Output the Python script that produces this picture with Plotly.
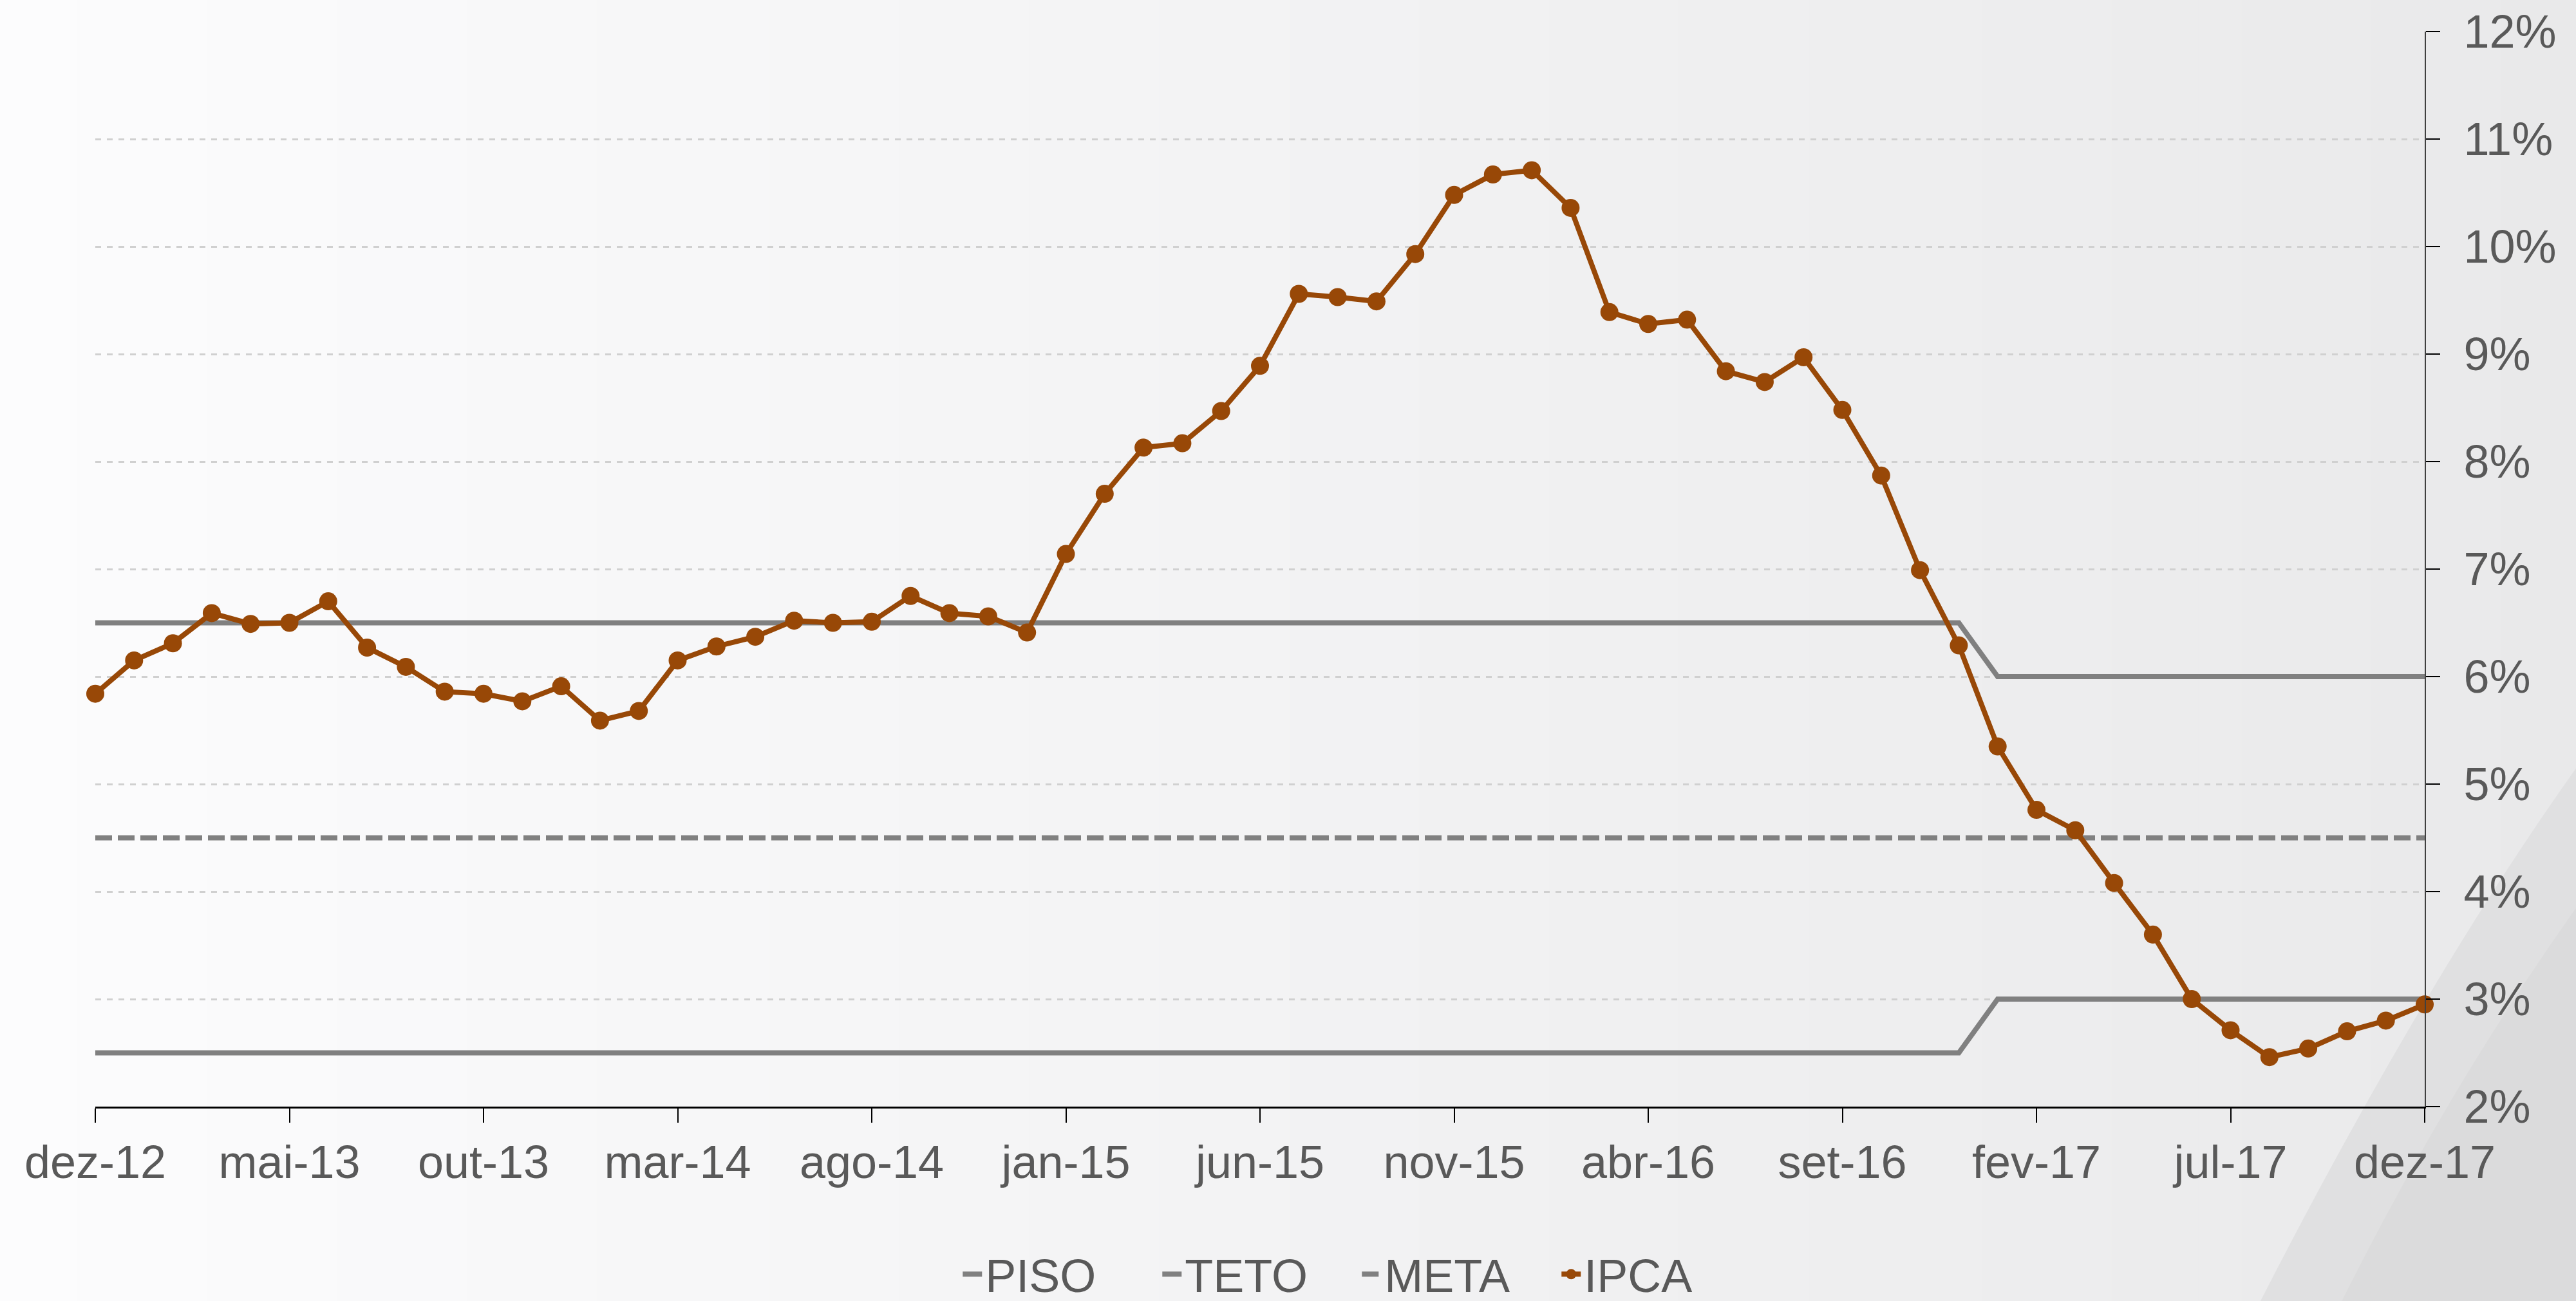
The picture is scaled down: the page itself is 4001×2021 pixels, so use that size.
import plotly.graph_objects as go

months = [
    "dez-12", "jan-13", "fev-13", "mar-13", "abr-13", "mai-13", "jun-13", "jul-13", "ago-13", "set-13", "out-13", "nov-13",
    "dez-13", "jan-14", "fev-14", "mar-14", "abr-14", "mai-14", "jun-14", "jul-14", "ago-14", "set-14", "out-14", "nov-14",
    "dez-14", "jan-15", "fev-15", "mar-15", "abr-15", "mai-15", "jun-15", "jul-15", "ago-15", "set-15", "out-15", "nov-15",
    "dez-15", "jan-16", "fev-16", "mar-16", "abr-16", "mai-16", "jun-16", "jul-16", "ago-16", "set-16", "out-16", "nov-16",
    "dez-16", "jan-17", "fev-17", "mar-17", "abr-17", "mai-17", "jun-17", "jul-17", "ago-17", "set-17", "out-17", "nov-17",
    "dez-17",
]

ipca = [
    5.84, 6.15, 6.31, 6.59, 6.49, 6.50, 6.70, 6.27, 6.09, 5.86, 5.84, 5.77,
    5.91, 5.59, 5.68, 6.15, 6.28, 6.37, 6.52, 6.50, 6.51, 6.75, 6.59, 6.56,
    6.41, 7.14, 7.70, 8.13, 8.17, 8.47, 8.89, 9.56, 9.53, 9.49, 9.93, 10.48,
    10.67, 10.71, 10.36, 9.39, 9.28, 9.32, 8.84, 8.74, 8.97, 8.48, 7.87, 6.99,
    6.29, 5.35, 4.76, 4.57, 4.08, 3.60, 3.00, 2.71, 2.46, 2.54, 2.70, 2.80,
    2.95,
]

piso = [2.5] * 49 + [3.0] * 12
teto = [6.5] * 49 + [6.0] * 12
meta = [4.5] * 61

tick_labels = ["dez-12", "mai-13", "out-13", "mar-14", "ago-14", "jan-15", "jun-15",
               "nov-15", "abr-16", "set-16", "fev-17", "jul-17", "dez-17"]
y_ticks = [2, 3, 4, 5, 6, 7, 8, 9, 10, 11, 12]

GRAY = "#808080"
IPCA_C = "#984807"
TXT = "#595959"
FONT = "Liberation Sans, Arial, sans-serif"

fig = go.Figure()
fig.add_trace(go.Scatter(x=months, y=piso, name="PISO", mode="lines",
                         line=dict(color=GRAY, width=8), cliponaxis=False))
fig.add_trace(go.Scatter(x=months, y=teto, name="TETO", mode="lines",
                         line=dict(color=GRAY, width=8), cliponaxis=False))
fig.add_trace(go.Scatter(x=months, y=meta, name="META", mode="lines",
                         line=dict(color=GRAY, width=8, dash="26px,9px"), cliponaxis=False))
fig.add_trace(go.Scatter(x=months, y=ipca, name="IPCA", mode="lines+markers",
                         line=dict(color=IPCA_C, width=8),
                         marker=dict(color=IPCA_C, size=28), cliponaxis=False))

# background gradient (style only)
shapes = []
n = 60
x_lo, x_hi = -0.045, 1.07
for i in range(n):
    t = i / (n - 1)
    c = int(round(252 - 19 * t))
    x0 = x_lo + (x_hi - x_lo) * i / n
    x1 = x_lo + (x_hi - x_lo) * (i + 1) / n + 0.001
    shapes.append(dict(type="rect", xref="paper", yref="paper", x0=x0, x1=x1,
                       y0=-0.2, y1=1.03, fillcolor=f"rgb({c},{c},{c+1})",
                       line=dict(width=0), layer="below"))
# bottom-right diagonal wedge
shapes.append(dict(type="path", xref="paper", yref="paper",
                   path="M 1.07,0.33 Q 1.0,0.12 0.925,-0.2 L 1.07,-0.2 Z",
                   fillcolor="rgb(224,224,225)", line=dict(width=0), layer="below"))
shapes.append(dict(type="path", xref="paper", yref="paper",
                   path="M 1.07,0.2 Q 1.01,0.02 0.96,-0.2 L 1.07,-0.2 Z",
                   fillcolor="rgb(219,219,220)", line=dict(width=0), layer="below"))

fig.update_layout(
    width=4001, height=2021,
    margin=dict(l=148, r=235, t=49, b=302, autoexpand=False),
    paper_bgcolor="#f4f4f4",
    plot_bgcolor="rgba(0,0,0,0)",
    font=dict(family=FONT, size=72, color=TXT),
    shapes=shapes,
    showlegend=True,
    legend=dict(orientation="h", x=0.371, xanchor="left", y=-0.156, yanchor="middle",
                font=dict(size=72, color=TXT), bgcolor="rgba(0,0,0,0)",
                itemwidth=30, entrywidth=265, entrywidthmode="pixels"),
    xaxis=dict(type="category", categoryorder="array", categoryarray=months,
               range=[0, 60], tickmode="array", tickvals=tick_labels, ticktext=tick_labels,
               showgrid=False, showline=True, linecolor="#000000", linewidth=3,
               ticks="outside", ticklen=22, tickwidth=2, tickcolor="#000000",
               tickfont=dict(size=72, color=TXT), zeroline=False, ticklabelstandoff=0,
               automargin=False),
    yaxis=dict(side="right", range=[2, 12], tickmode="array", tickvals=y_ticks,
               ticktext=[f"{v}%" for v in y_ticks],
               showgrid=True, gridcolor="#d0d0d0", gridwidth=3, griddash="9px,9px",
               showline=True, linecolor="#404040", linewidth=2,
               ticks="outside", ticklen=22, tickwidth=2, tickcolor="#000000",
               tickfont=dict(size=72, color=TXT), zeroline=False, ticklabelstandoff=22,
               automargin=False),
)

fig.write_html("out.html", config={"displayModeBar": False},
               post_script="document.body.style.margin='0';document.body.style.overflow='hidden';")
